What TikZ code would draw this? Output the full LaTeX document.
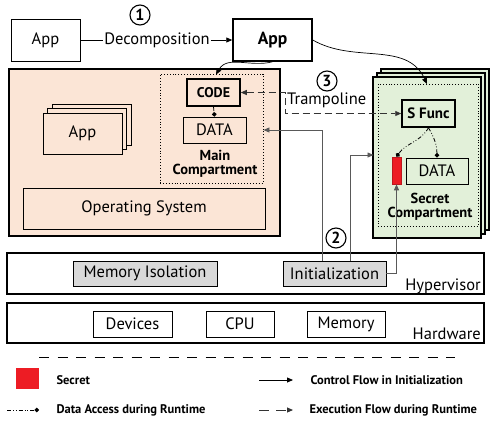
\documentclass[tikz,border=0pt]{standalone}
\usepackage{fontspec}
\setmainfont{PT Sans}
\usetikzlibrary{arrows.meta}
\definecolor{hostfill}{HTML}{FBE5D6}
\definecolor{encfill}{HTML}{E2F0D9}
\definecolor{hvfill}{HTML}{D9D9D9}
\definecolor{secretred}{HTML}{ED1C24}
\definecolor{ctrlgray}{HTML}{595959}
\tikzset{
  fsmain/.style={font=\fontsize{16.5}{18}\selectfont},
  fslabel/.style={font=\fontsize{14.5}{16}\selectfont\bfseries},
  box/.style={draw, line width=0.9pt, inner sep=0pt, fsmain},
  thickbox/.style={draw, line width=1.5pt, inner sep=0pt},
  dotbox/.style={draw, dotted, line width=0.9pt, inner sep=0pt},
  numcirc/.style={draw, circle, line width=1.1pt, inner sep=0pt, minimum size=20pt,
    font=\fontsize{16}{16}\selectfont\bfseries},
  tip/.style={-{Triangle[length=6pt,width=5pt]}},
  ctrl/.style={draw=ctrlgray, line width=0.8pt, tip},
  exec/.style={draw=black!80, line width=0.9pt, dash pattern=on 7pt off 4pt},
  access/.style={draw=black, line width=0.8pt,
    dash pattern=on 4pt off 2pt on 0.8pt off 2pt on 0.8pt off 2pt,
    -{Circle[length=4.5pt]}},
  legtext/.style={anchor=west, font=\fontsize{12.5}{14}\selectfont\bfseries},
}
\begin{document}
\begin{tikzpicture}[x=1pt,y=-1pt]
\useasboundingbox (0,0) rectangle (490,424);

% ---- decomposition step
\node[box, minimum width=69pt, minimum height=42pt] (app0) at (45.5,40) {App};
\node[thickbox, minimum width=79pt, minimum height=42pt,
      font=\fontsize{17.5}{18}\selectfont\bfseries] (app1) at (272.5,40) {App};
\node[fsmain, inner sep=1pt] (decomp) at (157,40) {Decomposition};
\node[numcirc] (n1) at (140,15) {1};
\draw[line width=0.8pt] (app0.east) -- (decomp.west);
\draw[line width=0.8pt, tip] (decomp.east) -- (app1.west);

% ---- host side (salmon)
\node[draw, line width=1.1pt, fill=hostfill, minimum width=271pt, minimum height=167pt]
  (host) at (144.5,152.5) {};
\node[dotbox, minimum width=103pt, minimum height=109pt] (maincomp) at (211.5,128.5) {};
\node[thickbox, minimum width=53pt, minimum height=27pt,
      font=\fontsize{14}{15}\selectfont\bfseries] (code) at (213.5,92.5) {CODE};
\node[box, minimum width=63pt, minimum height=26pt] (mdata) at (214.5,130) {DATA};
\node[fslabel, align=center] (mainlbl) at (215,164) {Main\\[-2pt]Compartment};

\node[box, fill=hostfill, minimum width=79pt, minimum height=41pt] (appc) at (91.5,124.5) {};
\node[box, fill=hostfill, minimum width=79pt, minimum height=41pt] (appb) at (87,129) {};
\node[box, fill=hostfill, minimum width=79pt, minimum height=41pt] (appa) at (82.5,133.5) {App};
\node[box, minimum width=242pt, minimum height=41pt] (os) at (144,208.5) {Operating System};

% ---- secret compartment stack (green)
\node[draw, line width=1.1pt, fill=encfill, minimum width=108pt, minimum height=161pt] (encc) at (435,149.5) {};
\node[draw, line width=1.1pt, fill=encfill, minimum width=108pt, minimum height=161pt] (encb) at (431,153.5) {};
\node[draw, line width=1.1pt, fill=encfill, minimum width=108pt, minimum height=161pt] (enca) at (427,157.5) {};
\node[dotbox, minimum width=100pt, minimum height=142pt] (secomp) at (428,155) {};
\node[thickbox, minimum width=53pt, minimum height=27pt,
      font=\fontsize{15}{16}\selectfont\bfseries] (sfunc) at (428.5,113.5) {S Func};
\node[draw=secretred!80!black, line width=0.6pt, fill=secretred, minimum width=9pt, minimum height=27pt,
      inner sep=0pt] (secret) at (396.5,170.5) {};
\node[box, minimum width=62pt, minimum height=26pt] (sdata) at (437,171) {DATA};
\node[fslabel, align=center] (seclbl) at (430,207) {Secret\\[-2pt]Compartment};

% ---- hypervisor and hardware
\node[draw, line width=1.1pt, minimum width=477pt, minimum height=41pt] (hyp) at (245.5,273.5) {};
\node[box, fill=hvfill, minimum width=144pt, minimum height=25pt] (memiso) at (145,273.5) {Memory Isolation};
\node[box, fill=hvfill, minimum width=103pt, minimum height=25pt] (init) at (334.5,273.5) {Initialization};
\node[fsmain, anchor=base east, inner sep=0pt] (hyplbl) at (481,290) {Hypervisor};

\node[draw, line width=1.1pt, minimum width=477pt, minimum height=40pt] (hw) at (245.5,323) {};
\node[box, minimum width=79pt, minimum height=26pt] (dev) at (132.5,324) {Devices};
\node[box, minimum width=68pt, minimum height=26pt] (cpu) at (240,324) {CPU};
\node[box, minimum width=78pt, minimum height=26pt] (mem) at (346,324) {Memory};
\node[fsmain, anchor=base east, inner sep=0pt] (hwlbl) at (481,339) {Hardware};

% ---- runtime flows from the decomposed app
\coordinate (mctop) at (216,74.5);
\coordinate (sctop) at (427,84);
\draw[line width=0.7pt, tip] (app1.south) to[out=195, in=60] (mctop);
\draw[line width=0.7pt, tip] (app1.east) to[out=-30, in=115] (sctop);

% ---- trampoline
\coordinate (tr) at (285,102);
\draw[exec, {Triangle[length=6pt,width=5pt]}-{Triangle[length=6pt,width=5pt]}]
  (code.east) -- (code.east -| tr) -- (tr |- sfunc.west) -- (sfunc.west);
\node[fsmain, anchor=west, inner sep=1pt] (tramp) at (286,100) {Trampoline};
\node[numcirc] (n3) at (327,81) {3};

% ---- initialization control flow
\coordinate (i1) at (322,261);
\coordinate (i2) at (350,261);
\coordinate (encin) at (373.5,155);
\draw[ctrl] (i1) |- (maincomp.east |- mdata.east);
\draw[ctrl] (i2) |- (encin);
\draw[ctrl] (init.east) -| (secret.south);
\node[numcirc] (n2) at (336,238) {2};

% ---- data accesses at runtime
\draw[access] (code.south) -- (mdata.north);
\draw[access] (sfunc.south) to[out=-120, in=55] (secret.north);
\draw[access] (sfunc.south) to[out=-60, in=90] (sdata.north);

% ---- legend
\coordinate (ld0) at (39,357);
\coordinate (ld1) at (455,357);
\draw[line width=1pt, dash pattern=on 10pt off 8.5pt] (ld0) -- (ld1);
\node[fill=secretred, minimum width=23pt, minimum height=21pt, inner sep=0pt] (legsec) at (27.5,378.5) {};
\node[legtext] (legsect) at (53,380) {Secret};
\coordinate (lc0) at (259,380);
\coordinate (lc1) at (293,380);
\draw[line width=0.8pt, tip] (lc0) -- (lc1);
\node[legtext] (legctrl) at (307,380) {Control Flow in Initialization};
\coordinate (la0) at (7,410);
\coordinate (la1) at (39,410);
\draw[access] (la0) -- (la1);
\node[legtext] (legacc) at (53,410) {Data Access during Runtime};
\coordinate (le0) at (259,410);
\coordinate (le1) at (293,410);
\draw[exec, -{Triangle[length=6pt,width=5pt]}, dash pattern=on 10pt off 7pt] (le0) -- (le1);
\node[legtext] (legexec) at (306,410) {Execution Flow during Runtime};
\end{tikzpicture}
\end{document}
